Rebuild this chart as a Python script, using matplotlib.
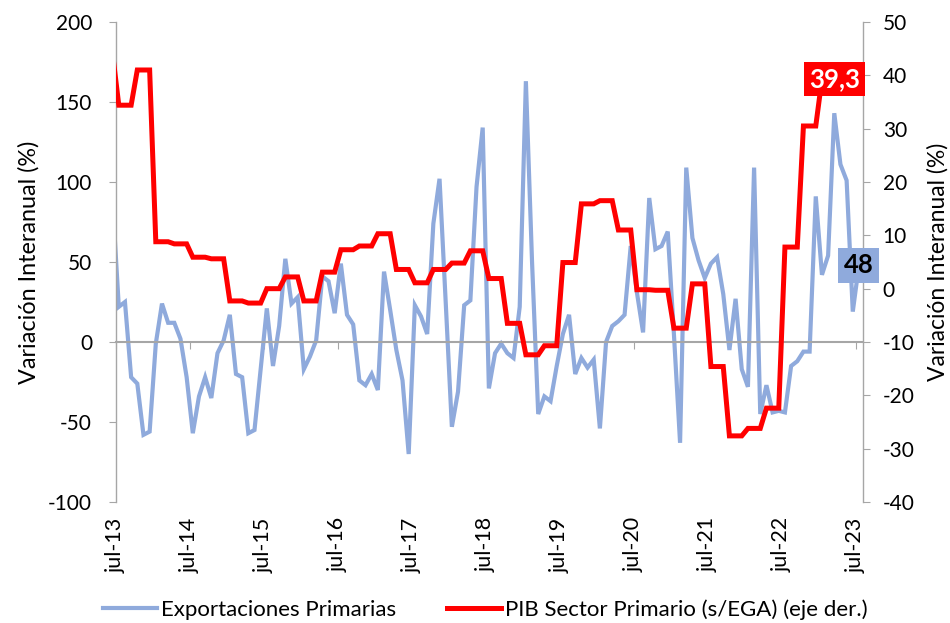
import matplotlib
matplotlib.use("Agg")
import matplotlib.pyplot as plt
import numpy as np

# ---------------- data ----------------
# monthly, jun-13 ... jul-23 (first point lies before the axis start and is clipped)
exportaciones = [88,
    22, 25, -22, -26, -58, -56, -1, 24, 12, 12, 2, -22,
    -57, -34, -22, -35, -7, 1, 17, -20, -22, -57, -55, -17,
    21, -15, 10, 52, 24, 28, -17, -9, 1, 41, 38, 18,
    49, 17, 11, -24, -27, -20, -30, 44, 20, -5, -24, -70,
    23, 16, 5, 74, 102, 25, -53, -31, 23, 26, 97, 134,
    -29, -7, -1, -7, -10, 22, 163, 50, -45, -34, -37, -15,
    5, 17, -20, -10, -16, -11, -54, 0, 10, 13, 17, 60,
    31, 6, 90, 58, 60, 69, 5, -63, 109, 65, 51, 40,
    49, 53, 30, -5, 27, -17, -28, 109, -45, -27, -44, -43,
    -44, -15, -12, -6, -6, 91, 42, 54, 143, 111, 101, 19,
    48]

# quarterly PIB sector primario (s/EGA), Q2-13 (jun-13 only) then Q3-13 ... Q1-23
pib_q2_13 = 44
pib_trimestral = [34.4, 41.0, 8.8, 8.4, 5.9, 5.6, -2.3, -2.7, 0.0, 2.2,
                  -2.3, 3.1, 7.3, 8.0, 10.3, 3.6, 1.1, 3.6, 4.8, 7.1,
                  1.9, -6.5, -12.4, -10.7, 4.9, 15.9, 16.5, 11.0, -0.2, -0.3,
                  -7.4, 0.9, -14.6, -27.6, -26.2, -22.4, 7.8, 30.5, 39.3]

tick_labels = ["jul-13", "jul-14", "jul-15", "jul-16", "jul-17", "jul-18",
               "jul-19", "jul-20", "jul-21", "jul-22", "jul-23"]

label_pib = "39,3"
label_exp = "48"

# ---------------- build series ----------------
pib = [pib_q2_13] + list(np.repeat(pib_trimestral, 3))
x_exp = np.arange(len(exportaciones)) - 1 + 0.5
x_pib = np.arange(len(pib)) - 1 + 0.5
tick_pos = np.arange(len(tick_labels)) * 12

BLUE = "#8FAADC"
RED = "#FF0000"
GRAY = "#A6A6A6"
FONT = ["Lato", "DejaVu Sans"]

plt.rcParams["font.family"] = FONT
plt.rcParams["axes.unicode_minus"] = False

fig = plt.figure(figsize=(9.5, 6.23), dpi=100)
ax = fig.add_axes([0.1218, 0.1942, 0.9087 - 0.1218, 0.9647 - 0.1942])
ax2 = ax.twinx()

ax.plot(x_exp, exportaciones, color=BLUE, lw=3.0, solid_joinstyle="miter",
        label="Exportaciones Primarias")
ax2.plot(x_pib, pib, color=RED, lw=3.6, solid_joinstyle="miter",
         label="PIB Sector Primario (s/EGA) (eje der.)")

ax.set_xlim(0, 121.2)
ax.set_ylim(-100, 200)
ax2.set_ylim(-40, 50)
ax.set_yticks(np.arange(-100, 201, 50))
ax2.set_yticks(np.arange(-40, 51, 10))

for a in (ax, ax2):
    a.spines["top"].set_visible(False)
    for s in ("left", "right"):
        a.spines[s].set_color(GRAY)
        a.spines[s].set_linewidth(1.0)
ax.spines["right"].set_visible(False)
ax2.spines["left"].set_visible(False)
ax2.spines["bottom"].set_visible(False)

# category axis crossing at zero
ax.spines["bottom"].set_position(("data", 0))
ax.spines["bottom"].set_color(GRAY)
ax.spines["bottom"].set_linewidth(1.5)
ax.set_xticks(tick_pos)
ax.tick_params(axis="x", which="both", length=5, color=GRAY, labelbottom=False,
               direction="out")

sec = ax.secondary_xaxis("bottom")
sec.set_xticks(tick_pos, tick_labels, rotation=90)
sec.tick_params(axis="x", length=0, pad=11, labelsize=15.5)
sec.spines["bottom"].set_visible(False)

ax.tick_params(axis="y", length=5, color=GRAY, labelsize=15, pad=12)
ax2.tick_params(axis="y", length=5, color=GRAY, labelsize=15, pad=9)

ax.set_ylabel("Variación Interanual (%)", fontsize=16.8)
ax2.set_ylabel("Variación Interanual (%)", fontsize=16.5, rotation=90)
ax.yaxis.set_label_coords(-0.102, 0.5)
ax2.yaxis.set_label_coords(1.085, 0.5)

# data labels on last points
ax2.text(x_pib[-1], pib[-1], label_pib, color="white", fontsize=18.5, fontweight="bold",
         ha="center", va="center", zorder=10,
         bbox=dict(boxstyle="square,pad=0.2", fc=RED, ec="none"))
ax2.text(x_exp[-1], exportaciones[-1], label_exp, color="black", fontsize=18.5,
         fontweight="bold", ha="center", va="center", zorder=10,
         transform=ax.transData,
         bbox=dict(boxstyle="square,pad=0.22", fc=BLUE, ec="none"))

h1, l1 = ax.get_legend_handles_labels()
h2, l2 = ax2.get_legend_handles_labels()
fig.legend(h1 + h2, l1 + l2, loc="lower center", bbox_to_anchor=(0.511, -0.027),
           ncol=2, frameon=False, fontsize=16, handlelength=2.4,
           handletextpad=0.2, columnspacing=2.3)

fig.savefig("out.png", dpi=100)
